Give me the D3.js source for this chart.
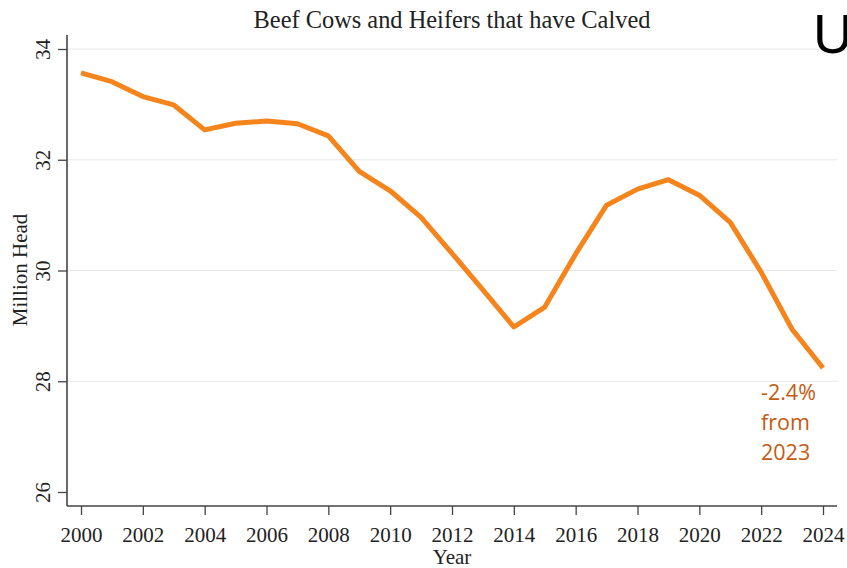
<!DOCTYPE html>
<html><head><meta charset="utf-8">
<script src="https://cdn.jsdelivr.net/npm/d3@7"></script>
<style>body{margin:0;background:#fff}svg{display:block}</style>
</head><body>
<svg id="c" width="847" height="568"></svg>
<script>
const years = [2000,2001,2002,2003,2004,2005,2006,2007,2008,2009,2010,2011,2012,2013,2014,2015,2016,2017,2018,2019,2020,2021,2022,2023,2024];
const cows = [33.57,33.41,33.14,32.99,32.54,32.66,32.70,32.65,32.43,31.79,31.44,30.96,30.31,29.65,28.98,29.34,30.30,31.18,31.47,31.64,31.36,30.87,29.97,28.94,28.24];
const xTicks = [2000,2002,2004,2006,2008,2010,2012,2014,2016,2018,2020,2022,2024];
const yTicks = [26,28,30,32,34];
const gridTicks = [28,30,32,34];
const title = "Beef Cows and Heifers that have Calved";
const note = ["-2.4%","from","2023"];

(function(){
const svg = d3.select("#c");
const x = d3.scaleLinear().domain([2000,2024]).range([81,823]);
const y = d3.scaleLinear().domain([26,34]).range([492,49]);
const pl = 67, pr = 837, pt = 35, pb = 506;
const serif = "'Liberation Serif','Times New Roman',serif";

svg.append("g").selectAll("line").data(gridTicks).join("line")
  .attr("x1", pl).attr("x2", pr)
  .attr("y1", d => y(d)).attr("y2", d => y(d))
  .attr("stroke", "#e8e8e8").attr("stroke-width", 1);

const yAxis = svg.append("g").attr("transform", `translate(${pl},0)`)
  .call(d3.axisLeft(y).tickValues(yTicks).tickSize(9).tickSizeOuter(0).tickFormat(d3.format("d")));
yAxis.select(".domain").remove();
yAxis.selectAll(".tick line").attr("stroke", "#444").attr("stroke-width", 1.3);
yAxis.selectAll(".tick text")
  .attr("x", null).attr("dy", null)
  .attr("transform", "translate(-17,0) rotate(-90)")
  .attr("text-anchor", "middle")
  .attr("font-family", serif).attr("font-size", 21).attr("fill", "#222");

const xAxis = svg.append("g").attr("transform", `translate(0,${pb})`)
  .call(d3.axisBottom(x).tickValues(xTicks).tickSize(9).tickSizeOuter(0).tickFormat(d3.format("d")));
xAxis.select(".domain").remove();
xAxis.selectAll(".tick line").attr("stroke", "#444").attr("stroke-width", 1.3);
xAxis.selectAll(".tick text").attr("y", 36).attr("dy", null)
  .attr("font-family", serif).attr("font-size", 21).attr("fill", "#222");

svg.append("line").attr("x1", pl).attr("x2", pl).attr("y1", pt).attr("y2", pb)
  .attr("stroke", "#444").attr("stroke-width", 1.6);
svg.append("line").attr("x1", pl).attr("x2", pr).attr("y1", pb).attr("y2", pb)
  .attr("stroke", "#444").attr("stroke-width", 1.6);

const line = d3.line().x((d,i) => x(years[i])).y(d => y(d));
svg.append("path").datum(cows).attr("d", line)
  .attr("fill", "none").attr("stroke", "#f6841c").attr("stroke-width", 5)
  .attr("stroke-linejoin", "round");

svg.append("text").attr("x", 452).attr("y", 28).attr("text-anchor", "middle")
  .attr("font-family", serif).attr("font-size", 24.4).attr("fill", "#222").text(title);
svg.append("text").attr("x", 452).attr("y", 564).attr("text-anchor", "middle")
  .attr("font-family", serif).attr("font-size", 21).attr("fill", "#222").text("Year");
svg.append("text").attr("transform", "translate(27,270) rotate(-90)").attr("text-anchor", "middle")
  .attr("font-family", serif).attr("font-size", 21).attr("fill", "#222").text("Million Head");

svg.append("g").selectAll("text").data(note).join("text")
  .attr("x", 761).attr("y", (d,i) => 400 + i*30)
  .attr("font-family", "'Open Sans',sans-serif").attr("font-size", 21.5)
  .attr("fill", "#c55a11").text(d => d);

svg.append("text").attr("x", 813).attr("y", 53)
  .attr("font-family", "'Liberation Sans',Arial,sans-serif").attr("font-size", 55)
  .attr("fill", "#000").text("U");
})();
</script>
</body></html>
